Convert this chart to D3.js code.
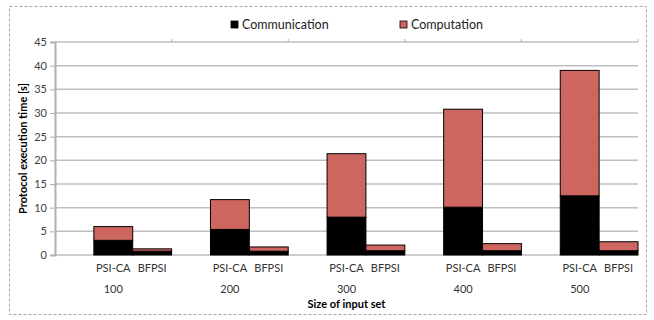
<!DOCTYPE html>
<html><head><meta charset="utf-8">
<script src="https://cdn.jsdelivr.net/npm/d3@7"></script>
<style>body{margin:0;background:#fff}svg{display:block}text{font-family:Lato,"Liberation Sans",sans-serif}</style>
</head><body><svg id="c" width="654" height="320"></svg>
<script>
const categories = ["100","200","300","400","500"];
const methods = ["PSI-CA","BFPSI"];
const series = ["Communication","Computation"];
const psiComm = [3.1, 5.4, 8.0, 10.1, 12.5];
const psiComp = [2.9, 6.3, 13.4, 20.7, 26.5];
const bfComm = [0.8, 0.8, 0.9, 0.9, 0.9];
const bfComp = [0.5, 0.9, 1.2, 1.5, 1.9];
const yTicks = [0,5,10,15,20,25,30,35,40,45];
const colors = ["#000000","#CD665F"];

const svg = d3.select("#c");
const L=55, R=638, T=42, B=255;
const x = d3.scaleBand().domain(categories).range([L,R]).padding(0);
const sub = d3.scaleBand().domain(["gap"].concat(methods)).range([0,x.bandwidth()]).padding(0);
const y = d3.scaleLinear().domain([0,45]).range([B,T]);

// border
svg.append("rect").attr("x",9.5).attr("y",6.5).attr("width",637).attr("height",308)
  .attr("fill","none").attr("stroke","#a6a6a6").attr("stroke-dasharray","3,2").attr("stroke-width",1);

// gridlines
svg.append("g").selectAll("line").data(yTicks).join("line")
  .attr("x1",L).attr("x2",R).attr("y1",d=>y(d)).attr("y2",d=>y(d))
  .attr("stroke","#bfbfbf").attr("stroke-width",1.5);

// y axis
const ya = svg.append("g").attr("transform",`translate(${L},0)`)
  .call(d3.axisLeft(y).tickValues(yTicks).tickSize(5).tickPadding(3));
ya.select(".domain").attr("stroke","#b0b0b0").attr("stroke-width",2);
ya.selectAll(".tick line").attr("stroke","#b0b0b0");
ya.selectAll(".tick text").attr("fill","#404040").style("font-size","11px").style("font-family","Lato,sans-serif");

// top tick marks at band boundaries
const bounds = categories.map(c=>x(c)+x.bandwidth()).concat([]);
svg.append("g").selectAll("line").data(bounds).join("line")
  .attr("x1",d=>d).attr("x2",d=>d).attr("y1",T-3).attr("y2",T)
  .attr("stroke","#b0b0b0").attr("stroke-width",1);

// bars
const rows = [];
categories.forEach((c,i)=>{
  rows.push({cat:c, m:"PSI-CA", vals:[psiComm[i], psiComp[i]]});
  rows.push({cat:c, m:"BFPSI", vals:[bfComm[i], bfComp[i]]});
});
const g = svg.append("g");
rows.forEach(r=>{
  let base = 0;
  r.vals.forEach((v,k)=>{
    g.append("rect")
      .attr("x", x(r.cat)+sub(r.m))
      .attr("width", sub.bandwidth())
      .attr("y", y(base+v))
      .attr("height", y(base)-y(base+v))
      .attr("fill", colors[k]).attr("stroke","#000").attr("stroke-width",1);
    base += v;
  });
});

// method labels
svg.append("g").selectAll("text").data(rows).join("text")
  .attr("x", d=>x(d.cat)+sub(d.m)+sub.bandwidth()/2).attr("y",272)
  .attr("text-anchor","middle").attr("fill","#333").style("font-size","11px")
  .text(d=>d.m);
// category labels
svg.append("g").selectAll("text").data(categories).join("text")
  .attr("x", d=>x(d)+x.bandwidth()/2).attr("y",293)
  .attr("text-anchor","middle").attr("fill","#333").style("font-size","11px")
  .text(d=>d);
// axis titles
svg.append("text").attr("x",(L+R)/2).attr("y",308).attr("text-anchor","middle")
  .style("font-size","11px").style("font-weight","bold").attr("fill","#000").text("Size of input set");
svg.append("text").attr("transform",`translate(27,${(T+B)/2}) rotate(-90)`).attr("text-anchor","middle")
  .style("font-size","11px").style("font-weight","bold").attr("fill","#000").text("Protocol execution time [s]");

// legend
const lx = [231, 400];
series.forEach((s,i)=>{
  svg.append("rect").attr("x",lx[i]).attr("y",21).attr("width",7).attr("height",7)
    .attr("fill",colors[i]).attr("stroke","#000").attr("stroke-width",0.8);
  svg.append("text").attr("x",lx[i]+11).attr("y",29).style("font-size",12.5+"px").attr("fill","#222").text(s);
});
</script></body></html>
